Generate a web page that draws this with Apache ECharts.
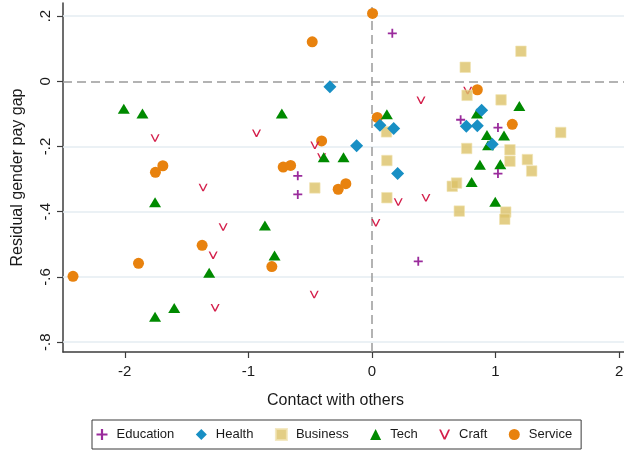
<!DOCTYPE html>
<html>
<head>
<meta charset="utf-8">
<script src="https://cdn.jsdelivr.net/npm/echarts@6/dist/echarts.min.js"></script>
<style>
  html, body { margin: 0; padding: 0; background: #fff; }
  #chart { width: 624px; height: 450px; }
</style>
</head>
<body>
<div id="chart"></div>
<script>
// Occupation groups: [contact with others, residual gender pay gap]
const education = [[0.165, 0.147], [-0.60, -0.290], [-0.60, -0.347], [0.718, -0.118],
  [1.02, -0.142], [1.02, -0.283], [0.375, -0.552]];
const health = [[-0.34, -0.017], [-0.124, -0.198], [0.065, -0.135], [0.176, -0.145],
  [0.208, -0.283], [0.888, -0.089], [0.764, -0.138], [0.853, -0.136], [0.974, -0.193]];
const business = [[0.755, 0.043], [1.206, 0.092], [0.77, -0.043], [1.045, -0.057],
  [1.528, -0.157], [0.118, -0.155], [0.767, -0.206], [1.117, -0.210], [1.117, -0.245],
  [1.258, -0.240], [1.293, -0.275], [0.121, -0.243], [-0.462, -0.327], [0.121, -0.357],
  [0.65, -0.322], [0.685, -0.312], [0.707, -0.398], [1.083, -0.401], [1.075, -0.423]];
const tech = [[-2.008, -0.084], [-1.857, -0.099], [-1.755, -0.371], [-0.729, -0.099],
  [-1.60, -0.695], [-1.755, -0.722], [-1.317, -0.587], [-0.866, -0.442], [-0.788, -0.534],
  [-0.39, -0.233], [-0.23, -0.233], [0.121, -0.101], [0.85, -0.099], [1.193, -0.076],
  [0.931, -0.165], [1.069, -0.166], [0.94, -0.196], [0.874, -0.256], [1.039, -0.254],
  [0.807, -0.309], [0.998, -0.369]];
const craft = [[-1.755, -0.174], [-0.934, -0.159], [-1.366, -0.326], [-1.204, -0.447],
  [-1.285, -0.533], [-1.269, -0.694], [-0.467, -0.654], [-0.462, -0.196], [-0.407, -0.232],
  [0.397, -0.058], [0.775, -0.028], [0.213, -0.370], [0.437, -0.357], [0.032, -0.434]];
const service = [[0.005, 0.208], [-0.483, 0.121], [0.043, -0.111], [-0.407, -0.183],
  [-1.692, -0.259], [-1.752, -0.279], [-0.718, -0.263], [-0.658, -0.258], [-0.273, -0.331],
  [-0.211, -0.314], [-0.81, -0.568], [-1.374, -0.503], [-1.889, -0.558], [-2.419, -0.598],
  [0.853, -0.026], [1.136, -0.132]];

const xTicks = [-2, -1, 0, 1, 2];
const yTicks = [-0.8, -0.6, -0.4, -0.2, 0, 0.2];
const legendOrder = ['Education', 'Health', 'Business', 'Tech', 'Craft', 'Service'];

const PLUS = 'path://M4,0H6V4H10V6H6V10H4V6H0V4H4Z';
const VEE = 'path://M0,0H1.7L5,7.1L8.3,0H10L5.8,9H4.2Z';

const axisColor = '#3c3c3c';
const textColor = '#1a1a1a';
const font = 'Liberation Sans, Arial, sans-serif';

const fmt = v => (v === 0 ? '0' : String(v).replace('0.', '.'));

function scatter(name, data, symbol, size, color, z, extra) {
  return Object.assign({
    name, type: 'scatter', data, symbol, symbolSize: size, z,
    itemStyle: { color, opacity: 1 },
    emphasis: { disabled: true }
  }, extra || {});
}

const chart = echarts.init(document.getElementById('chart'), null, { renderer: 'canvas' });
chart.setOption({
  animation: false,
  textStyle: { fontFamily: font, color: textColor },
  grid: { left: 63, right: 0, top: 3, bottom: 98, containLabel: false, outerBoundsMode: 'none' },
  xAxis: {
    type: 'value', min: -2.5, max: 2.04,
    name: 'Contact with others', nameLocation: 'middle', nameGap: 41,
    nameTextStyle: { fontSize: 16, color: textColor, padding: [0, 16, 0, 0] },
    axisLine: { show: true, onZero: false, lineStyle: { color: axisColor, width: 1.5 } },
    axisTick: { show: true, length: 6, customValues: xTicks, lineStyle: { color: axisColor, width: 1.2 } },
    axisLabel: { customValues: xTicks, fontSize: 15, color: textColor, margin: 12, formatter: fmt },
    splitLine: { show: false }
  },
  yAxis: {
    type: 'value', min: -0.83, max: 0.24,
    name: 'Residual gender pay gap', nameLocation: 'middle', nameGap: 37,
    nameTextStyle: { fontSize: 16, color: textColor },
    axisLine: { show: true, onZero: false, lineStyle: { color: axisColor, width: 1.5 } },
    axisTick: { show: true, length: 6, customValues: yTicks, lineStyle: { color: axisColor, width: 1.2 } },
    axisLabel: { customValues: yTicks, fontSize: 15, color: textColor, margin: 10, rotate: 90, formatter: fmt },
    splitLine: { show: false }
  },
  legend: {
    data: legendOrder,
    left: 92, top: 420,
    orient: 'horizontal',
    itemWidth: 11, itemHeight: 11, itemGap: 21.5,
    padding: [8, 9, 8, 4.5],
    borderColor: '#3a3a3a', borderWidth: 1,
    textStyle: { fontSize: 13, color: textColor, fontFamily: font, padding: [0, 0, 0, 4] }
  },
  series: [
    {
      name: 'guides', type: 'scatter', data: [], z: 1, silent: true,
      markLine: {
        silent: true, symbol: 'none', animation: false, z: 1,
        label: { show: false },
        data: yTicks.filter(v => v !== 0).map(v => ({ yAxis: v, lineStyle: { color: '#e4edf2', width: 1.5, type: 'solid' } }))
          .concat([
            { yAxis: 0, lineStyle: { color: '#9a9a9a', width: 1.5, type: [9, 5] } },
            { xAxis: 0, lineStyle: { color: '#9a9a9a', width: 1.5, type: [9, 5] } }
          ])
      }
    },
    scatter('Service', service, 'circle', 11, '#e8820e', 12),
    scatter('Craft', craft, VEE, [9, 7.5], '#d41f4b', 13),
    scatter('Tech', tech, 'triangle', [12, 10], '#008a00', 14),
    scatter('Business', business, 'rect', 10.5, '#dcc268', 15, {
      itemStyle: { color: '#dcc268', borderColor: '#f1e4b4', borderWidth: 0.8 }
    }),
    scatter('Health', health, 'diamond', 13, '#188fc4', 16),
    scatter('Education', education, PLUS, 9, '#9a2b9c', 17)
  ]
});
</script>
</body>
</html>
